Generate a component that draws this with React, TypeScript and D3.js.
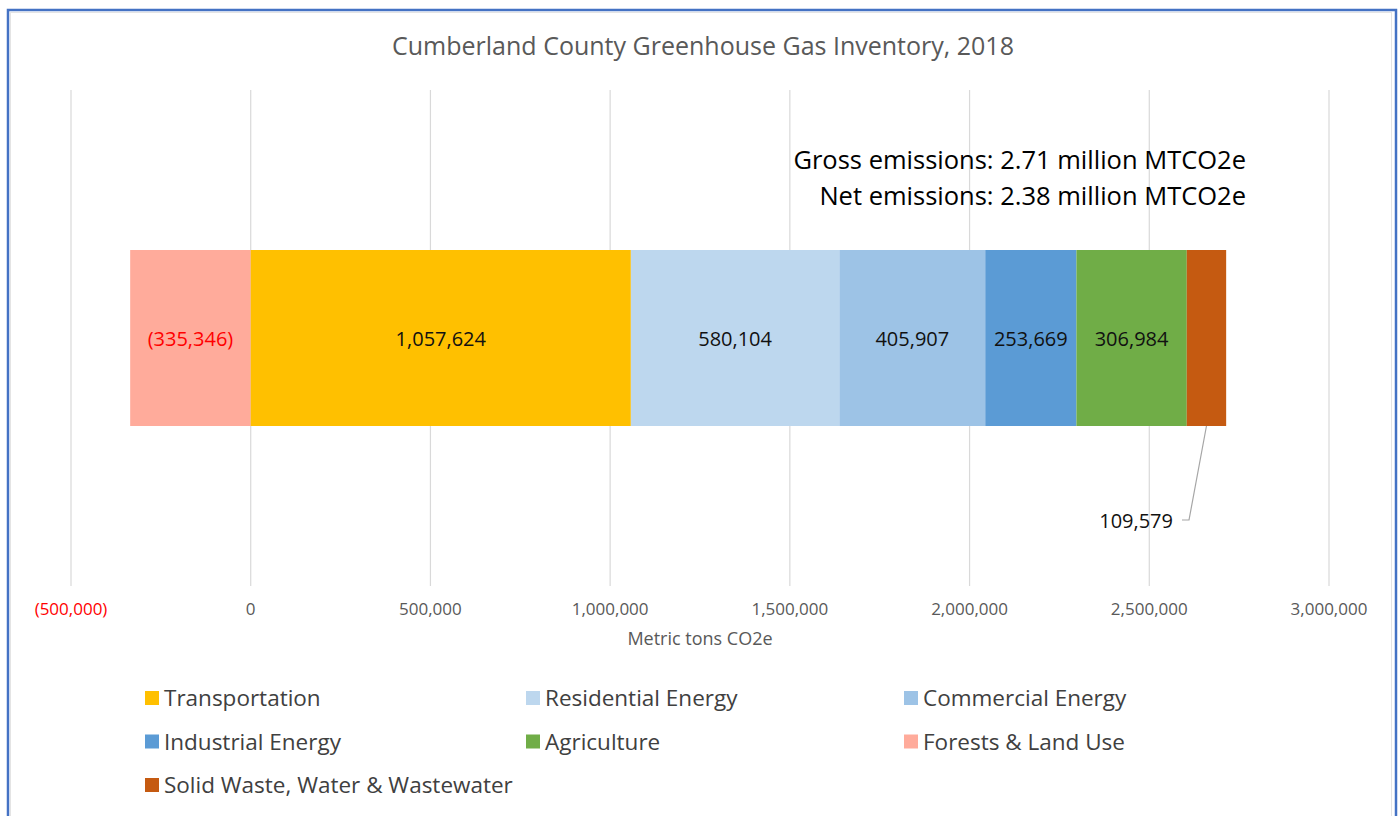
import React from 'react';
import * as d3 from 'd3';

const categories = [
  'Transportation',
  'Residential Energy',
  'Commercial Energy',
  'Industrial Energy',
  'Agriculture',
  'Forests & Land Use',
  'Solid Waste, Water & Wastewater',
];
const values = [1057624, 580104, 405907, 253669, 306984, -335346, 109579];
const colors = ['#FFC000', '#BDD7EE', '#9DC3E6', '#5B9BD5', '#70AD47', '#FFAB9B', '#C55A11'];
// order in which segments sit on the bar (left to right from zero)
const stackOrder = [
  'Forests & Land Use',
  'Transportation',
  'Residential Energy',
  'Commercial Energy',
  'Industrial Energy',
  'Agriculture',
  'Solid Waste, Water & Wastewater',
];
const xTicks = [-500000, 0, 500000, 1000000, 1500000, 2000000, 2500000, 3000000];
const notes = ['Gross emissions: 2.71 million MTCO2e', 'Net emissions: 2.38 million MTCO2e'];

const W = 1400;
const H = 816;
const FONT = '"Open Sans", Lato, sans-serif';

const fmt = (v: number) => (v < 0 ? `(${d3.format(',')(-v)})` : d3.format(',')(v));

export default function App() {
  const x = d3.scaleLinear().domain([-500000, 3000000]).range([71, 1329]);
  const y = d3.scaleBand().domain(['2018']).range([250, 426]).padding(0);

  const row: any = { key: '2018' };
  categories.forEach((c, i) => (row[c] = values[i]));
  const series = d3.stack<any>().keys(stackOrder).offset(d3.stackOffsetDiverging)([row]);

  const colorOf = (k: string) => colors[categories.indexOf(k)];
  const bandTop = y('2018') as number;
  const bh = y.bandwidth();
  const midY = bandTop + bh / 2;

  const solid = series.find((s) => s.key === 'Solid Waste, Water & Wastewater')!;
  const solidMid = (x(solid[0][0]) + x(solid[0][1])) / 2;

  return (
    <div style={{ position: 'absolute', left: 0, top: 0 }}>
      <svg width={W} height={H} style={{ display: 'block', fontFamily: FONT }}>
        <rect x={0} y={0} width={W} height={H} fill="#fff" />
        <rect x={10.5} y={12.5} width={1381} height={H + 20} fill="none" stroke="#e4e4e4" strokeWidth={1} />
        <rect x={8} y={10} width={1388} height={H + 20} fill="none" stroke="#4472C4" strokeWidth={2.5} />

        <text x={703} y={55} textAnchor="middle" fontSize={25} fill="#595959">
          Cumberland County Greenhouse Gas Inventory, 2018
        </text>

        {xTicks.map((t) => (
          <line key={t} x1={x(t)} x2={x(t)} y1={90} y2={586} stroke="#d9d9d9" strokeWidth={1.2} />
        ))}

        {series.map((s) => (
          <rect
            key={s.key}
            x={x(Math.min(s[0][0], s[0][1]))}
            width={Math.abs(x(s[0][1]) - x(s[0][0]))}
            y={bandTop}
            height={bh}
            fill={colorOf(s.key)}
          />
        ))}

        {series
          .filter((s) => s.key !== 'Solid Waste, Water & Wastewater')
          .map((s) => {
            const v = values[categories.indexOf(s.key)];
            return (
              <text
                key={s.key}
                x={(x(s[0][0]) + x(s[0][1])) / 2}
                y={midY + 8}
                textAnchor="middle"
                fontSize={20}
                fill={v < 0 ? '#FF0000' : '#111'}
              >
                {fmt(v)}
              </text>
            );
          })}

        <path
          d={`M${solidMid},${bandTop + bh} L1189,520 L1182,520`}
          fill="none"
          stroke="#a6a6a6"
          strokeWidth={1.2}
        />
        <text x={1173} y={528} textAnchor="end" fontSize={20} fill="#111">
          {fmt(values[6])}
        </text>

        {notes.map((n, i) => (
          <text key={n} x={1246} y={169 + i * 36} textAnchor="end" fontSize={25.5} fill="#000">
            {n}
          </text>
        ))}

        {xTicks.map((t) => (
          <text
            key={t}
            x={x(t)}
            y={615}
            textAnchor="middle"
            fontSize={17}
            fill={t < 0 ? '#FF0000' : '#595959'}
          >
            {fmt(t)}
          </text>
        ))}
        <text x={700} y={645} textAnchor="middle" fontSize={18} fill="#595959">
          Metric tons CO2e
        </text>

        {categories.map((c, i) => {
          const col = i % 3;
          const r = Math.floor(i / 3);
          const lx = [145, 526, 904][col];
          const ly = 698 + r * 43.5;
          return (
            <g key={c}>
              <rect x={lx} y={ly - 7} width={14} height={14} fill={colors[i]} />
              <text x={lx + 19} y={ly + 8} fontSize={22.5} fill="#404040">
                {c}
              </text>
            </g>
          );
        })}
      </svg>
    </div>
  );
}
